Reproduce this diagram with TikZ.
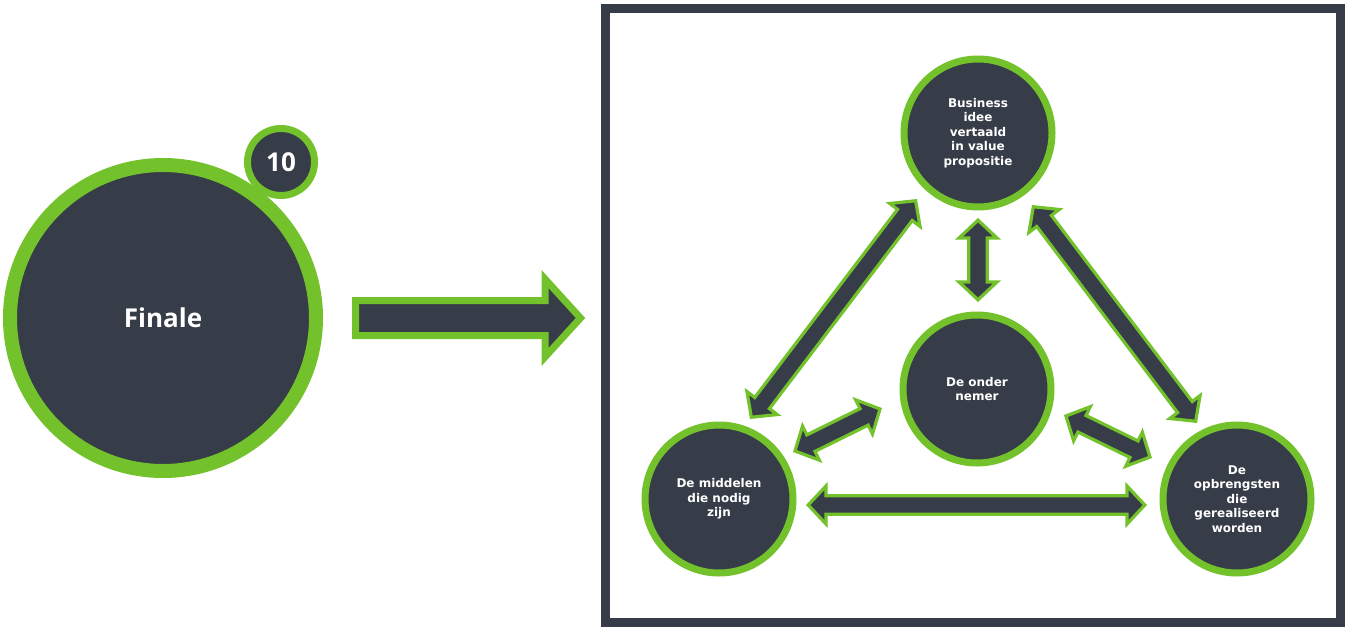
\documentclass[tikz,border=0pt]{standalone}
\usepackage{fontspec}
\setmainfont{DejaVu Sans}
\newfontfamily\opensans{Open Sans}
\usetikzlibrary{calc,shadows}
\definecolor{groen}{RGB}{115,194,44}
\definecolor{donker}{RGB}{54,61,72}
\tikzset{
  cirkel/.style={circle, draw=groen, fill=donker, line width=7pt, text=white, align=center,
    inner sep=0pt, minimum size=148pt, font=\bfseries\fontsize{12}{14.6}\selectfont},
  pijl/.style={draw=groen, fill=donker, line width=3.2pt, line join=miter},
  schaduw/.style={drop shadow={shadow xshift=4pt, shadow yshift=-4pt, opacity=0.3, fill=black!60}},
}
% dubbele blokpijl van #1 naar #2
\newcommand\dubbelpijl[2]{%
  \draw[pijl] let \p1=($(#2)-(#1)$), \n1={atan2(\y1,\x1)}, \n2={veclen(\x1,\y1)} in
    [shift={(#1)}, rotate=\n1]
    (2.2,0) -- (20,19) -- (20,9.2) -- ({\n2-20},9.2) -- ({\n2-20},19) -- ({\n2-2.2},0)
    -- ({\n2-20},-19) -- ({\n2-20},-9.2) -- (20,-9.2) -- (20,-19) -- cycle;
}
\begin{document}
\begin{tikzpicture}[x=1pt, y=-1pt, line join=round]
	\useasboundingbox (0,0) rectangle (1358,640);
	% links: finale
	\node[circle, draw=groen, fill=donker, line width=14pt, minimum size=306pt, schaduw,
	  text=white, font=\opensans\bfseries\fontsize{26}{30}\selectfont] (finale) at (163,318) {Finale};
	\node[circle, draw=groen, fill=donker, line width=7pt, minimum size=67pt, inner sep=0pt,
	  text=white, font=\opensans\bfseries\fontsize{26}{30}\selectfont] (nummer) at (281,162) {10};
	\coordinate (start) at (355.5,318);
	\draw[pijl, line width=7pt] (start) ++(0,-17.5) -- ++(189.5,0) -- ++(0,-21.5) -- ++(35.5,39)
	  -- ++(-35.5,39) -- ++(0,-21.5) -- ++(-189.5,0) -- cycle;
	% rechts: kader
	\draw[donker, fill=white, line width=8.5pt, line join=miter, schaduw] (605.5,8.5) rectangle (1340.5,622.5);
	\node[cirkel] (idee) at (978,133) {Business\\idee\\vertaald\\in value\\propositie};
	\node[cirkel] (ondernemer) at (977,389) {De onder\\nemer};
	\node[cirkel] (middelen) at (719,499) {De middelen\\die nodig\\zijn};
	\node[cirkel] (opbrengsten) at (1237,499) {De\\opbrengsten\\die\\gerealiseerd\\worden};
	% eindpunten van de pijlen
	\coordinate (a1) at (750,419);  \coordinate (b1) at (917,199);
	\coordinate (a2) at (1032,205); \coordinate (b2) at (1197,423);
	\coordinate (a3) at (978,218);  \coordinate (b3) at (978,302);
	\coordinate (a4) at (793,452);  \coordinate (b4) at (882,408);
	\coordinate (a5) at (1064,415); \coordinate (b5) at (1152,458);
	\coordinate (a6) at (806,505);  \coordinate (b6) at (1147,505);
	\foreach \i in {1,...,6} {\dubbelpijl{a\i}{b\i}}
\end{tikzpicture}
\end{document}
